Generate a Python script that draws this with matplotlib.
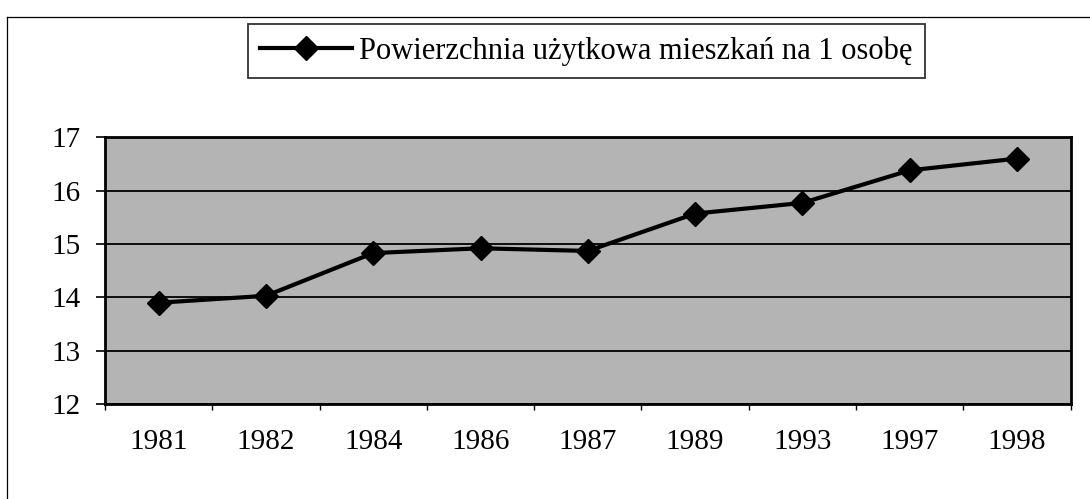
import matplotlib.pyplot as plt
from matplotlib.lines import Line2D
import numpy as np

plt.rcParams['font.family'] = ['Liberation Serif', 'DejaVu Serif']

years = ['1981', '1982', '1984', '1986', '1987', '1989', '1993', '1997', '1998']
area = [13.9, 14.03, 14.83, 14.92, 14.87, 15.57, 15.77, 16.38, 16.6]
label = 'Powierzchnia użytkowa mieszkań na 1 osobę'

fig = plt.figure(figsize=(10.9, 4.99), dpi=100)
ax = fig.add_axes([0.0963, 0.190, 0.886, 0.535])
ax.set_facecolor('#b4b4b4')

x = np.arange(len(years))
ax.plot(x, area, color='black', lw=3, marker='D', markersize=12,
        markerfacecolor='black', markeredgecolor='black', label=label)

ax.set_xlim(-0.5, len(years) - 0.5)
ax.set_ylim(12, 17)
ax.set_yticks(range(12, 18))
ax.yaxis.grid(True, color='black', lw=1.3)
ax.set_axisbelow(True)

# category labels centred, ticks between categories
ax.set_xticks(x)
ax.set_xticklabels(years)
ax.set_xticks(np.arange(-0.5, len(years)), minor=True)
ax.tick_params(axis='x', which='major', length=0, pad=18, labelsize=21)
ax.tick_params(axis='x', which='minor', length=4, width=1, direction='out')
ax.tick_params(axis='y', length=6.5, width=1.2, direction='out', pad=11, labelsize=21)

for s in ax.spines.values():
    s.set_linewidth(2)
    s.set_color('black')

leg = fig.legend(loc='center', bbox_to_anchor=(0.538, 0.898), fontsize=22,
                 frameon=True, fancybox=False, edgecolor='black',
                 handlelength=3.0, handletextpad=0.25, borderpad=0.4,
                 borderaxespad=0)
leg.get_frame().set_linewidth(1.3)

# outer frame of the chart (only left and top edges are in view)
fig.add_artist(Line2D([0.0065, 0.0065], [0.0, 0.966], color='black', lw=0.9))
fig.add_artist(Line2D([0.0065, 1.0], [0.966, 0.966], color='black', lw=0.9))

fig.savefig('out.png', dpi=100)
